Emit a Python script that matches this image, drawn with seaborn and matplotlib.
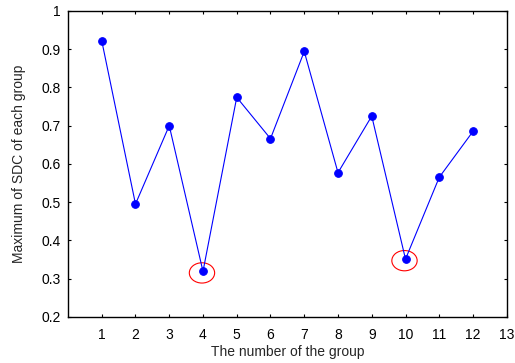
import seaborn as sns
import matplotlib.pyplot as plt
from matplotlib.patches import Ellipse

groups = [1, 2, 3, 4, 5, 6, 7, 8, 9, 10, 11, 12]
max_sdc = [0.922, 0.495, 0.700, 0.319, 0.774, 0.666, 0.894, 0.577, 0.725, 0.351, 0.565, 0.685]
highlight = [4, 10]

sns.set_style("ticks")
plt.rcParams['font.family'] = ['Liberation Sans', 'DejaVu Sans']

fig = plt.figure(figsize=(5.15, 3.63), dpi=100)
ax = fig.add_axes([0.132, 0.127, 0.852, 0.843])

sns.lineplot(x=groups, y=max_sdc, ax=ax, color='blue', linewidth=0.8,
             marker='o', markersize=5.5, markeredgecolor='blue', markerfacecolor='blue')

for g in highlight:
    v = max_sdc[groups.index(g)]
    ax.add_patch(Ellipse((g - 0.03, v - 0.004), width=0.75, height=0.053,
                         fill=False, edgecolor='red', linewidth=0.8))

ax.set_xlim(0, 13)
ax.set_ylim(0.2, 1)
ax.set_xticks(range(1, 14))
ax.set_yticks([0.2, 0.3, 0.4, 0.5, 0.6, 0.7, 0.8, 0.9, 1.0])
ax.set_yticklabels(['0.2', '0.3', '0.4', '0.5', '0.6', '0.7', '0.8', '0.9', '1'])
ax.tick_params(direction='in', top=True, right=True, length=2.5, width=0.8,
               labelsize=10, colors='black')
ax.tick_params(axis='x', pad=8)
ax.tick_params(axis='y', pad=5)
for s in ax.spines.values():
    s.set_visible(True)
    s.set_linewidth(1.0)
    s.set_color('black')

ax.set_xlabel('The number of the group', fontsize=10, labelpad=2)
ax.set_ylabel('Maximum of SDC of each group', fontsize=10, labelpad=11)

fig.savefig('out.png', dpi=100)
